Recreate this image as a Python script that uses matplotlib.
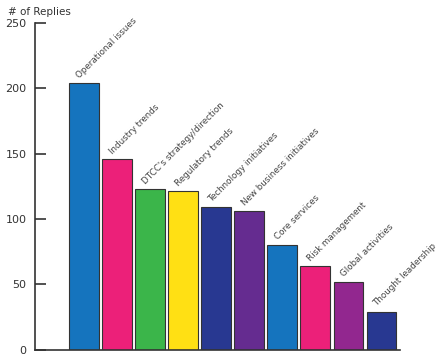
import numpy as np
import matplotlib
matplotlib.use("Agg")
from matplotlib import pyplot as plt

plt.rcParams['font.family'] = ['Liberation Sans Narrow', 'DejaVu Sans']

categories = ['Operational issues', 'Industry trends', "DTCC's strategy/direction",
              'Regulatory trends', 'Technology initiatives', 'New business initiatives',
              'Core services', 'Risk management', 'Global activities', 'Thought leadership']
replies = [204, 146, 123, 121, 109, 106, 80, 64, 52, 29]
colors = ['#1574BE', '#EC2079', '#3BB54A', '#FFE014', '#283891',
          '#652C90', '#1574BE', '#EC2079', '#92278F', '#283891']
yticks = [0, 50, 100, 150, 200, 250]

fig = plt.figure(figsize=(4.4, 3.6), dpi=100)
ax = fig.add_axes([35 / 440, 1 - 349.5 / 360, 365 / 440, 326.5 / 360])

x = np.arange(len(categories))
ax.bar(x, replies, width=0.9, color=colors, edgecolor='#333333', linewidth=0.8)

# rotated category names sit just above each bar
for xi, v, name in zip(x, replies, categories):
    ax.text(xi - 0.1, v + 2.5, name, rotation=45, rotation_mode='anchor',
            ha='left', va='bottom', fontsize=6.3, color='#444444')

ax.set_xlim(-1.48, 9.56)
ax.set_ylim(0, 250)
ax.set_yticks(yticks)
ax.set_xticks([])
ax.tick_params(axis='y', direction='in', length=8, width=1.2, color='#333333',
               labelsize=8, labelcolor='#333333', pad=6)
for side in ['top', 'right']:
    ax.spines[side].set_visible(False)
for side in ['left', 'bottom']:
    ax.spines[side].set_color('#333333')
    ax.spines[side].set_linewidth(1.2)

fig.text(8 / 440, 1 - 12 / 360, '# of Replies', fontsize=7.5, color='#333333',
         ha='left', va='center')

fig.savefig('out.png', dpi=100)
